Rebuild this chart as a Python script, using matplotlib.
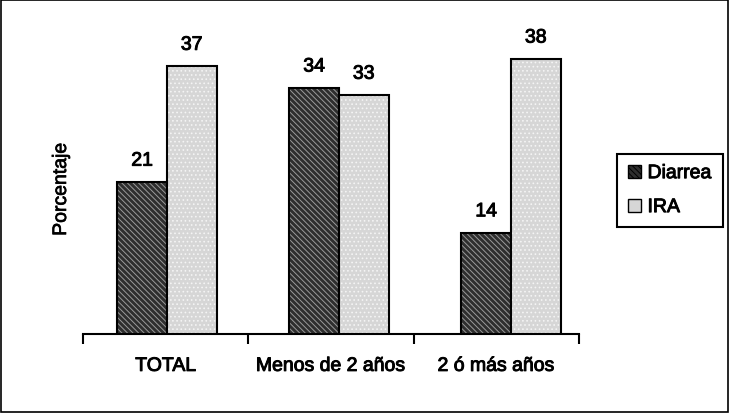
import matplotlib.pyplot as plt
import matplotlib.patheffects as pe
import numpy as np
from matplotlib.patches import Rectangle, Patch

plt.rcParams['font.family'] = ['Liberation Sans', 'DejaVu Sans']
plt.rcParams['hatch.linewidth'] = 0.7

categories = ['TOTAL', 'Menos de 2 años', '2 ó más años']
diarrea = [21, 34, 14]
ira = [37, 33, 38]

# regular face thickened a little, to get near the heavy narrow face of the original
heavy = [pe.withStroke(linewidth=0.7, foreground='black')]

fig = plt.figure(figsize=(7.3, 4.14), dpi=100)
rect = [83/730, 1 - 335/414, (579-83)/730, (335-20)/414]
ax = fig.add_axes(rect)
# bars sit on their own x scale (groups spaced a bit wider than the tick cells)
bx = fig.add_axes(rect, frameon=False)

x = np.arange(len(categories))
w = 0.288
ymax = (335-20)/7.24

bx.bar(x - w/2, diarrea, w, color='#2e2e2e', edgecolor='#9a9a9a', hatch='\\\\\\\\\\\\', linewidth=0)
bx.bar(x - w/2, diarrea, w, fill=False, edgecolor='black', linewidth=1.5)
bx.bar(x + w/2, ira, w, color='#d6d6d6', edgecolor='#f4f4f4', hatch='....', linewidth=0)
bx.bar(x + w/2, ira, w, fill=False, edgecolor='black', linewidth=1.5)

for i in range(len(categories)):
    bx.text(x[i] - w/2, diarrea[i] + 1.7, str(diarrea[i]), ha='center', va='bottom',
            fontsize=14, path_effects=heavy)
    bx.text(x[i] + w/2, ira[i] + 1.7, str(ira[i]), ha='center', va='bottom',
            fontsize=14, path_effects=heavy)

bx.set_xlim(-0.488, 2.395)
bx.set_ylim(0, ymax)
bx.set_xticks([])
bx.set_yticks([])

ax.set_xlim(-0.5, 2.5)
ax.set_ylim(0, ymax)
for s in ['top', 'right', 'left']:
    ax.spines[s].set_visible(False)
ax.spines['bottom'].set_linewidth(1.5)
ax.set_yticks([])
ax.set_xticks([-0.5, 0.5, 1.5, 2.5])
ax.set_xticklabels([])
ax.tick_params(axis='x', length=7, width=1.5, direction='out')
for i, c in enumerate(categories):
    ax.text(x[i], -3.3, c, ha='center', va='top', fontsize=14, path_effects=heavy)

ax.set_ylabel('Porcentaje', fontsize=14, path_effects=[pe.withStroke(linewidth=0.5, foreground='black')])
ax.yaxis.set_label_coords(-(83-70)/496, (335-190)/315)

handles = [Patch(facecolor='#2e2e2e', edgecolor='black', hatch='\\\\\\\\\\\\'),
           Patch(facecolor='#d6d6d6', edgecolor='black')]
leg = fig.legend(handles, ['Diarrea', 'IRA'], loc='upper left',
                 bbox_to_anchor=(617/730, 1 - 155/414), fancybox=False,
                 edgecolor='black', framealpha=1, handlelength=0.67, handleheight=0.67,
                 handletextpad=0.35, borderpad=0.55, labelspacing=0.85, borderaxespad=0,
                 prop={'size': 14})
leg.get_frame().set_linewidth(1.5)
for t in leg.get_texts():
    t.set_path_effects(heavy)

fig.patches.append(Rectangle((0.002, 0.003), 0.995, 0.994, transform=fig.transFigure,
                             fill=False, edgecolor='black', linewidth=1.2))

fig.savefig('out.png', dpi=100)
